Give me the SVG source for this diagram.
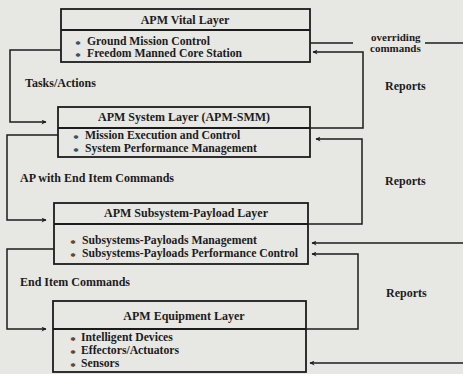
<svg xmlns="http://www.w3.org/2000/svg" width="463" height="374" viewBox="0 0 463 374">
  <style>
    text { font-family: "Liberation Serif", "Times New Roman", serif; font-weight: bold; font-size: 12px; fill: #1c1c1c; }
    .hd { text-anchor: middle; }
    .it { font-size: 11.7px; }
    .bu { font-size: 11px; text-anchor: middle; }
    .sm { font-size: 11px; }
    .box { fill: none; stroke: #1c1c1c; stroke-width: 1.8; }
    .ln { fill: none; stroke: #1c1c1c; stroke-width: 1.5; }
  </style>
  <defs>
    <marker id="arr" viewBox="0 0 10 10" refX="9" refY="5" markerWidth="8" markerHeight="5" markerUnits="userSpaceOnUse" orient="auto">
      <path d="M0,0 L10,5 L0,10 L3,5 Z" fill="#1c1c1c"/>
    </marker>
  </defs>
  <rect width="463" height="374" fill="#e7e7e4"/>

  <!-- connectors -->
  <g id="connectors">
    <path class="ln" d="M61,50 H10 V122 H46" marker-end="url(#arr)"/>
    <path class="ln" d="M58,135 H7 V220 H46" marker-end="url(#arr)"/>
    <path class="ln" d="M54,249 H7 V329 H46" marker-end="url(#arr)"/>
    <path class="ln" d="M310,43 H353"/>
    <path class="ln" d="M425,43 H463"/>
    <path class="ln" d="M310,128 H363 V52 H313" marker-end="url(#arr)"/>
    <path class="ln" d="M308,224 H362 V139 H316" marker-end="url(#arr)"/>
    <path class="ln" d="M306,329 H358 V254 H312" marker-end="url(#arr)"/>
    <path class="ln" d="M463,243 H312" marker-end="url(#arr)"/>
    <path class="ln" d="M463,363 H310" marker-end="url(#arr)"/>
  </g>

  <!-- connector labels -->
  <g id="labels">
    <text x="25" y="87">Tasks/Actions</text>
    <text x="20" y="182">AP with End Item Commands</text>
    <text x="20" y="286">End Item Commands</text>
    <text class="sm" x="371" y="41">overriding</text>
    <text class="sm" x="370" y="52">commands</text>
    <text x="385" y="90">Reports</text>
    <text x="385" y="185">Reports</text>
    <text x="386" y="297">Reports</text>
  </g>

  <g id="vital-layer">
    <rect class="box" x="61" y="9" width="249" height="53"/>
    <line class="box" x1="61" y1="30" x2="310" y2="30"/>
    <text class="hd" x="185" y="24">APM Vital Layer</text>
    <text class="bu" x="78" y="47.5">*</text>
    <text class="it" x="87" y="45">Ground Mission Control</text>
    <text class="bu" x="78" y="59.5">*</text>
    <text class="it" x="87" y="57">Freedom Manned Core Station</text>
  </g>

  <g id="system-layer">
    <rect class="box" x="58" y="107" width="252" height="50"/>
    <line class="box" x1="58" y1="128" x2="310" y2="128"/>
    <text class="hd" x="184" y="121">APM System Layer (APM-SMM)</text>
    <text class="bu" x="76" y="141.5">*</text>
    <text class="it" x="85" y="139">Mission Execution and Control</text>
    <text class="bu" x="76" y="154.5">*</text>
    <text class="it" x="85" y="152">System Performance Management</text>
  </g>

  <g id="subsystem-payload-layer">
    <rect class="box" x="54" y="203" width="254" height="61"/>
    <line class="box" x1="54" y1="224" x2="308" y2="224"/>
    <text class="hd" x="186" y="217">APM Subsystem-Payload Layer</text>
    <text class="bu" x="73" y="246.5">*</text>
    <text class="it" x="82" y="244">Subsystems-Payloads Management</text>
    <text class="bu" x="73" y="259.5">*</text>
    <text class="it" x="82" y="257">Subsystems-Payloads Performance Control</text>
  </g>

  <g id="equipment-layer">
    <rect class="box" x="53" y="301" width="253" height="71"/>
    <line class="box" x1="53" y1="329" x2="306" y2="329"/>
    <text class="hd" x="184" y="320">APM Equipment Layer</text>
    <text class="bu" x="73" y="343.5">*</text>
    <text class="it" x="81" y="341">Intelligent Devices</text>
    <text class="bu" x="73" y="356.5">*</text>
    <text class="it" x="81" y="354">Effectors/Actuators</text>
    <text class="bu" x="73" y="369.5">*</text>
    <text class="it" x="81" y="367">Sensors</text>
  </g>
</svg>
